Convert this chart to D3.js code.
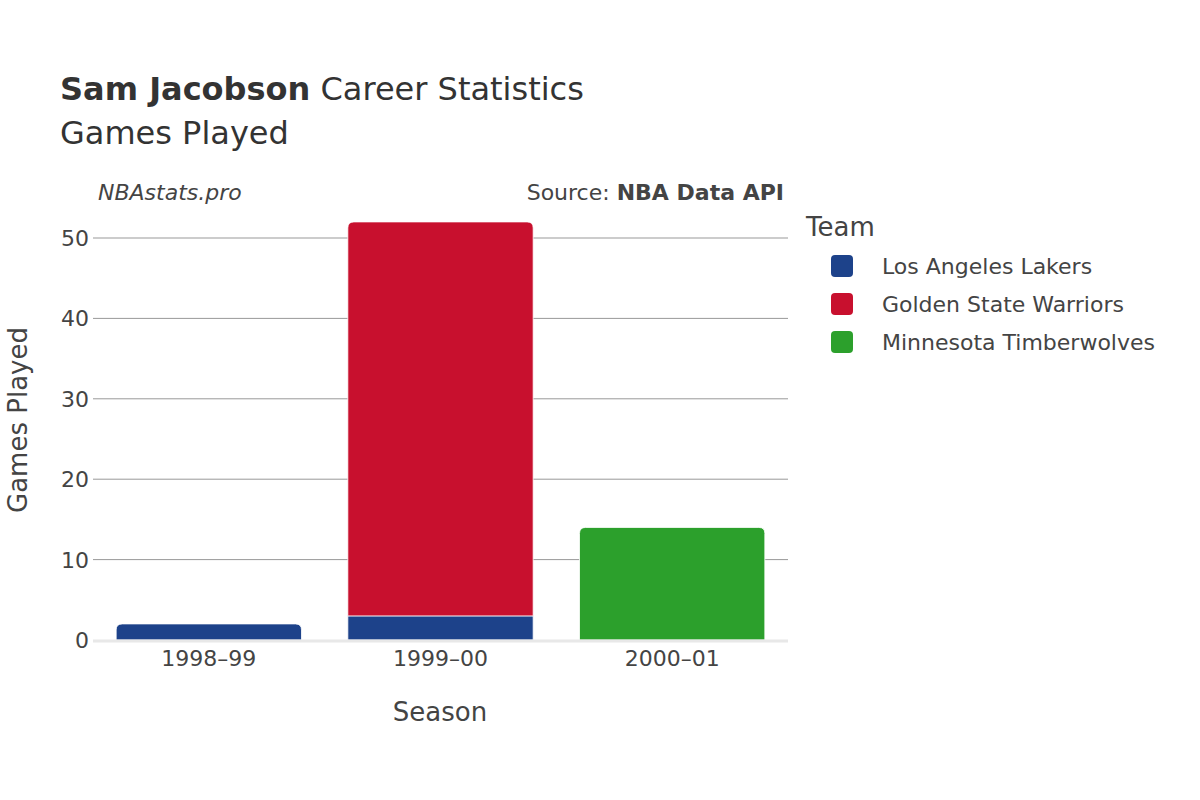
<!DOCTYPE html>
<html><head><meta charset="utf-8">
<script src="https://cdn.jsdelivr.net/npm/d3@7"></script>
<style>body{margin:0;background:#fff}svg{font-family:"DejaVu Sans",sans-serif}</style>
</head><body>
<script>
const seasons = ["1998–99","1999–00","2000–01"];
const teams = ["Los Angeles Lakers","Golden State Warriors","Minnesota Timberwolves"];
const colors = ["#1d428a","#c8102e","#2ca02c"];
const lakers = [2,3,0];
const warriors = [0,49,0];
const wolves = [0,0,14];
const yTicks = [0,10,20,30,40,50];

const series = [lakers,warriors,wolves];
const svg = d3.select("body").append("svg").attr("width",1200).attr("height",800);
const x = d3.scaleBand().domain(seasons).range([93,788]).paddingInner(0.2).paddingOuter(0.1);
const y = d3.scaleLinear().domain([0,50]).range([640,238]);

svg.append("g").selectAll("line").data(yTicks.filter(d=>d>0)).join("line")
 .attr("x1",93).attr("x2",788).attr("y1",d=>y(d)).attr("y2",d=>y(d)).attr("stroke","#999").attr("stroke-width",1);
svg.append("g").selectAll("text").data(yTicks).join("text")
 .attr("x",89).attr("y",d=>y(d)+8).attr("text-anchor","end").attr("font-size",22).attr("fill","#444").text(d=>d);

function roundTop(x0,y0,w,h,r){
  r=Math.min(r,h);
  return `M${x0},${y0+h}V${y0+r}Q${x0},${y0} ${x0+r},${y0}H${x0+w-r}Q${x0+w},${y0} ${x0+w},${y0+r}V${y0+h}Z`;
}
seasons.forEach((s,i)=>{
  let base=0;
  const stack=[];
  series.forEach((arr,k)=>{ if(arr[i]>0){stack.push({k,y0:base,y1:base+arr[i]}); base+=arr[i];} });
  stack.forEach((d,j)=>{
    const top=j===stack.length-1;
    const px=x(s), w=x.bandwidth(), py=y(d.y1), h=y(d.y0)-y(d.y1);
    svg.append("path").attr("d", top?roundTop(px,py,w,h,6):`M${px},${py+h}V${py}H${px+w}V${py+h}Z`)
      .attr("fill",colors[d.k]).attr("stroke","#fff").attr("stroke-width",0.8);
  });
});
svg.append("line").attr("x1",93).attr("x2",788).attr("y1",641).attr("y2",641).attr("stroke","#e8e8e8").attr("stroke-width",3);
svg.append("g").selectAll("text").data(seasons).join("text")
 .attr("x",d=>x(d)+x.bandwidth()/2).attr("y",666).attr("text-anchor","middle").attr("font-size",22).attr("fill","#444").text(d=>d);

svg.append("text").attr("x",440).attr("y",721).attr("text-anchor","middle").attr("font-size",26).attr("fill","#444").text("Season");
svg.append("text").attr("transform","translate(27,420) rotate(-90)").attr("text-anchor","middle").attr("font-size",26).attr("fill","#444").text("Games Played");

const t=svg.append("text").attr("x",60).attr("y",100).attr("font-size",32).attr("fill","#333");
t.append("tspan").attr("font-weight","bold").text("Sam Jacobson");
t.append("tspan").text(" Career Statistics");
svg.append("text").attr("x",60).attr("y",144).attr("font-size",32).attr("fill","#333").text("Games Played");
svg.append("text").attr("x",98).attr("y",200).attr("font-size",22).attr("font-style","italic").attr("fill","#444").text("NBAstats.pro");
const src=svg.append("text").attr("x",784).attr("y",200).attr("text-anchor","end").attr("font-size",22).attr("fill","#444");
src.append("tspan").text("Source: ");
src.append("tspan").attr("font-weight","bold").text("NBA Data API");

svg.append("text").attr("x",806).attr("y",236).attr("font-size",26).attr("fill","#444").text("Team");
teams.forEach((tm,i)=>{
  const yy=266+i*38;
  svg.append("rect").attr("x",831).attr("y",yy-11).attr("width",22).attr("height",22).attr("rx",4).attr("fill",colors[i]);
  svg.append("text").attr("x",882).attr("y",yy+8).attr("font-size",22).attr("fill","#444").text(tm);
});
</script>
</body></html>
